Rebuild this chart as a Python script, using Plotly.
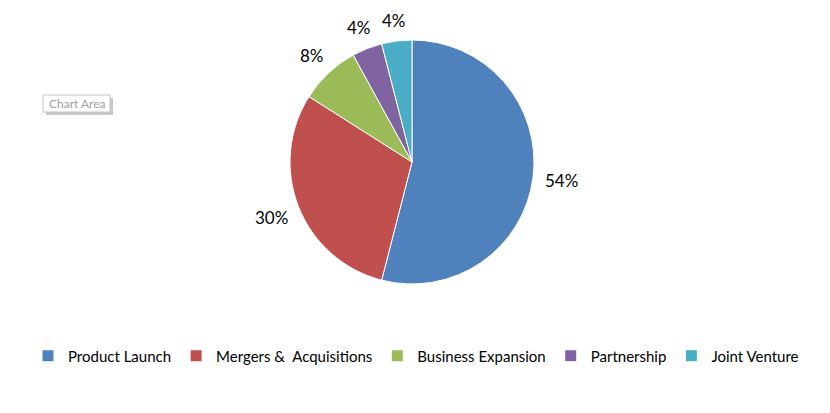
import math
import plotly.graph_objects as go

categories = ["Product Launch", "Mergers &  Acquisitions", "Business Expansion", "Partnership", "Joint Venture"]
values = [54, 30, 8, 4, 4]
colors = ["#4F81BD", "#C0504D", "#9BBB59", "#8064A2", "#4BACC6"]

# page body has an 8px margin, so the figure is drawn 8px smaller and all positions are shifted
OFF = 8
W, H = 830 - OFF, 413 - OFF
cx, cy, r = 412 - OFF, 162 - OFF, 122
label_gap = 12

fig = go.Figure(go.Pie(
    labels=categories,
    values=values,
    sort=False,
    direction="clockwise",
    rotation=0,
    marker=dict(colors=colors, line=dict(color="white", width=1)),
    textinfo="none",
    hoverinfo="label+percent",
    domain=dict(x=[(cx - r) / W, (cx + r) / W], y=[(H - cy - r) / H, (H - cy + r) / H]),
    showlegend=True,
))

# percentage labels placed outside each slice at its mid angle (label box edge at a fixed gap)
total = sum(values)
cum = 0
for v in values:
    mid = (cum + v / 2) / total * 2 * math.pi
    cum += v
    txt = f"{round(v / total * 100)}%"
    half_w = 5.4 * len(txt)
    half_h = 7
    s, c = math.sin(mid), math.cos(mid)
    d = r + label_gap + abs(s) * half_w + abs(c) * half_h
    px = cx + d * s
    py = cy - d * c
    fig.add_annotation(
        x=px / W, y=1 - py / H, xref="paper", yref="paper",
        xanchor="center", yanchor="middle", showarrow=False,
        text=txt,
        font=dict(family="Lato", size=17, color="#000000"),
    )

# "Chart Area" tooltip box
bx0, by0, bx1, by1 = 43 - OFF, 95 - OFF, 110 - OFF, 112 - OFF
fig.add_shape(type="rect", xref="paper", yref="paper",
              x0=(bx0 + 3) / W, x1=(bx1 + 3) / W, y0=1 - (by0 + 3) / H, y1=1 - (by1 + 3) / H,
              fillcolor="#C8C8C8", line=dict(width=0), layer="above")
fig.add_shape(type="rect", xref="paper", yref="paper",
              x0=bx0 / W, x1=bx1 / W, y0=1 - by0 / H, y1=1 - by1 / H,
              fillcolor="white", line=dict(color="#C4C4C4", width=1), layer="above")
fig.add_annotation(
    x=((bx0 + bx1) / 2 + 1) / W, y=1 - ((by0 + by1) / 2) / H, xref="paper", yref="paper",
    xanchor="center", yanchor="middle", text="Chart Area", showarrow=False,
    font=dict(family="Lato", size=12, color="#A0A0A0"),
)

fig.update_layout(
    width=W, height=H,
    margin=dict(l=0, r=0, t=0, b=0),
    paper_bgcolor="white", plot_bgcolor="white",
    font=dict(family="Lato", color="#000000"),
    legend=dict(
        orientation="h", x=(416 - OFF) / W, xanchor="center", y=1 - (356 - OFF) / H, yanchor="middle",
        font=dict(family="Lato", size=15, color="#000000"),
        itemwidth=30, tracegroupgap=0,
    ),
)

fig.write_html("out.html")
